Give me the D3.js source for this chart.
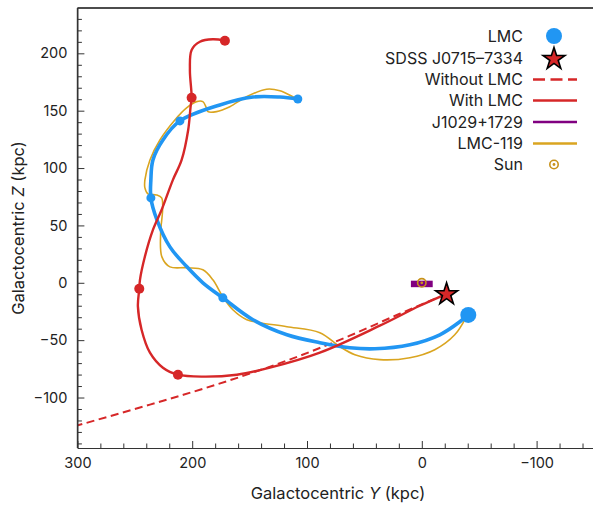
<!DOCTYPE html>
<html><head><meta charset="utf-8">
<script src="https://cdn.jsdelivr.net/npm/d3@7"></script>
<style>
html,body{margin:0;padding:0;background:#fff;}
svg{display:block;font-family:Inter,"Noto Sans",sans-serif;}
</style></head>
<body><svg id="chart" width="593" height="505"></svg>
<script>
// ---- data (Galactocentric Y, Z in kpc) ----
const lmcNow = [-40.5, -28];
const starPos = [-21.6, -10];
const sunPos = [0, 0];
const j1029Line = [[9.5, -1], [-9.5, -1]];

const lmcOrbit = [[-40.1,-27.9],[-33.1,-34.0],[-15.7,-45.3],[10.4,-54.0],[40.9,-57.5],[62.7,-56.6],[88.8,-52.2],[117.5,-45.3],[147.1,-32.2],[173.3,-13.1],[190.7,0],[204.6,13.9],[219.4,31.3],[230.7,54.9],[236.0,74.0],[236.0,89.7],[234.2,107.1],[225.5,124.5],[210.7,141.1],[175.9,155.0],[147.1,161.9],[123.6,161.9],[108.0,160.2]];
const lmcDots = [[173.3,-13.1],[236.0,74.0],[210.7,141.1],[108.0,160.2]];

const withLMC = [[-21.8,-9.6],[1.7,-20.0],[36.6,-37.4],[88.8,-60.9],[132.3,-74.0],[161.1,-80.1],[190.7,-81.8],[212.4,-80.1],[225.5,-74.0],[236.8,-60.9],[244.1,-40.9],[247.3,-20.6],[246.1,-5.2],[245.5,2.6],[241.2,22.9],[234.2,46.1],[226.6,63.6],[216.8,89.7],[209.2,107.1],[203.5,133.2],[201.4,153.5],[200.5,161.3],[202.0,185.5],[200.5,202.9],[193.3,210.1],[182.0,212.2],[171.5,211.0]];
const withDots = [[212.4,-80.1],[246.1,-5.2],[200.5,161.3],[171.5,211.0]];

const withoutLMC = [[-21.8,-9.6],[19.2,-27.0],[62.7,-46.1],[106.2,-63.6],[149.8,-79.2],[193.3,-93.2],[236.8,-106.2],[300.4,-124.5],[315.2,-128.9]];

const lmc119 = [[-38.3,-30.5],[-28.7,-45.3],[-11.3,-58.3],[10.4,-65.3],[36.6,-67.0],[58.3,-62.7],[71.4,-55.7],[88.8,-43.5],[117.5,-38.3],[141.1,-34.8],[152.4,-32.2],[164.6,-23.5],[173.3,-12.2],[182.0,2.6],[190.7,11.3],[204.6,13.1],[219.4,13.9],[226.4,22.6],[227.5,43.5],[225.8,63.6],[226.6,74.0],[231.0,76.6],[238.6,77.5],[241.2,82.7],[241.2,89.7],[236.8,107.1],[228.1,124.5],[215.1,141.9],[204.9,152.4],[196.2,157.9],[190.7,157.9],[188.1,153.5],[186.3,149.2],[178.8,149.2],[167.2,153.5],[152.6,162.2],[135.2,168.7],[123.6,167.4],[112.3,162.2],[108.0,160.2]];

const xTicks = [300, 200, 100, 0, -100];
const xTickLabels = ["300", "200", "100", "0", "\u2212100"];
const yTicks = [200, 150, 100, 50, 0, -50, -100];
const yTickLabels = ["200", "150", "100", "50", "0", "\u221250", "\u2212100"];
const legendLabels = ["LMC", "SDSS J0715\u20137334", "Without LMC", "With LMC", "J1029+1729", "LMC-119", "Sun"];

// ---- styles ----
const C = {blue:"#2196f3", red:"#d62728", purple:"#800080", orange:"#daa520", sun:"#c8921a"};

const svg = d3.select("#chart");
const L = 77.4, T = 8, B = 448, R = 594;
const x = d3.scaleLinear().domain([300, -150]).range([L, R]);
const y = d3.scaleLinear().domain([-144, 239.5]).range([B, T]);

svg.append("defs").append("clipPath").attr("id","clip")
  .append("rect").attr("x",L).attr("y",T).attr("width",R-L).attr("height",B-T);

const line = d3.line().x(d=>x(d[0])).y(d=>y(d[1])).curve(d3.curveCatmullRom.alpha(0.5));
const g = svg.append("g").attr("clip-path","url(#clip)");

g.append("path").datum(withoutLMC).attr("d", line).attr("fill","none")
  .attr("stroke",C.red).attr("stroke-width",2).attr("stroke-dasharray","8,4.5");
g.append("path").datum(lmc119).attr("d", line).attr("fill","none")
  .attr("stroke",C.orange).attr("stroke-width",1.6);
g.append("path").datum(lmcOrbit).attr("d", line).attr("fill","none")
  .attr("stroke",C.blue).attr("stroke-width",3.6);
g.append("path").datum(withLMC).attr("d", line).attr("fill","none")
  .attr("stroke",C.red).attr("stroke-width",2.4);

g.selectAll(".ld").data(lmcDots).join("circle").attr("cx",d=>x(d[0])).attr("cy",d=>y(d[1])).attr("r",4.5).attr("fill",C.blue);
g.selectAll(".wd").data(withDots).join("circle").attr("cx",d=>x(d[0])).attr("cy",d=>y(d[1])).attr("r",5).attr("fill",C.red);

// J1029 bar and Sun
g.append("path").datum(j1029Line).attr("d", d3.line().x(d=>x(d[0])).y(d=>y(d[1])))
  .attr("stroke",C.purple).attr("stroke-width",6.5).attr("fill","none");
function sunSym(sel, cx, cy){
  sel.append("circle").attr("cx",cx).attr("cy",cy).attr("r",4.2).attr("fill","none").attr("stroke",C.sun).attr("stroke-width",1.6);
  sel.append("circle").attr("cx",cx).attr("cy",cy).attr("r",1.4).attr("fill",C.sun);
}
sunSym(g, x(sunPos[0]), y(sunPos[1]));

const star = d3.symbol().type(d3.symbolStar).size(150);
g.append("path").attr("d", star).attr("transform",`translate(${x(starPos[0])},${y(starPos[1])})`)
  .attr("fill",C.red).attr("stroke","#000").attr("stroke-width",1.6);
g.append("circle").attr("cx",x(lmcNow[0])).attr("cy",y(lmcNow[1])).attr("r",8).attr("fill",C.blue);

// ---- axes ----
const gx = svg.append("g").attr("transform",`translate(0,${B})`);
gx.call(d3.axisBottom(x).tickValues(d3.range(300,-160,-20).filter(v=>v%100!==0)).tickSizeInner(-4.5).tickSizeOuter(0).tickFormat(""));
gx.call(g2=>g2.select(".domain").remove());
const gx2 = svg.append("g").attr("transform",`translate(0,${B})`);
gx2.call(d3.axisBottom(x).tickValues(xTicks).tickSizeInner(-7).tickSizeOuter(0).tickPadding(10)
  .tickFormat((d,i)=>xTickLabels[i]));
const gy = svg.append("g").attr("transform",`translate(${L},0)`);
gy.call(d3.axisLeft(y).tickValues(d3.range(-140,240,10).filter(v=>v%50!==0)).tickSizeInner(-4.5).tickSizeOuter(0).tickFormat(""));
gy.call(g2=>g2.select(".domain").remove());
const gy2 = svg.append("g").attr("transform",`translate(${L},0)`);
gy2.call(d3.axisLeft(y).tickValues(yTicks).tickSizeInner(-7).tickSizeOuter(0).tickPadding(10)
  .tickFormat((d,i)=>yTickLabels[i]));
svg.selectAll(".tick line").attr("stroke","#333").attr("stroke-width",1);
svg.selectAll(".domain").attr("stroke","#333").attr("stroke-width",1.2);
svg.selectAll(".tick text").attr("font-size",14.5).attr("fill","#222").attr("font-family","Inter,sans-serif");
svg.append("line").attr("x1",L).attr("x2",593).attr("y1",T).attr("y2",T).attr("stroke","#111").attr("stroke-width",1.4);
svg.append("line").attr("x1",L).attr("x2",L).attr("y1",T).attr("y2",B).attr("stroke","#333").attr("stroke-width",1.2);

// axis titles
const xt = svg.append("text").attr("x",338).attr("y",499).attr("text-anchor","middle").attr("font-size",16.5).attr("fill","#222");
xt.append("tspan").text("Galactocentric ");
xt.append("tspan").attr("font-style","italic").text("Y");
xt.append("tspan").text(" (kpc)");
const yt = svg.append("text").attr("transform","translate(24,228) rotate(-90)").attr("text-anchor","middle").attr("font-size",16.5).attr("fill","#222");
yt.append("tspan").text("Galactocentric ");
yt.append("tspan").attr("font-style","italic").text("Z");
yt.append("tspan").text(" (kpc)");

// ---- legend ----
const lg = svg.append("g");
const rowY = [36, 58, 79.5, 100.5, 122, 143.5, 164.5];
const tx = 523, sx = 554, lx1 = 533, lx2 = 577;
legendLabels.forEach((lab,i)=>{
  lg.append("text").attr("x",tx).attr("y",rowY[i]).attr("dy","0.35em").attr("text-anchor","end")
    .attr("font-size",16).attr("fill","#222").text(lab);
});
lg.append("circle").attr("cx",sx).attr("cy",rowY[0]).attr("r",8).attr("fill",C.blue);
lg.append("path").attr("d",star).attr("transform",`translate(${sx},${rowY[1]+1})`).attr("fill",C.red).attr("stroke","#000").attr("stroke-width",1.6);
lg.append("line").attr("x1",lx1).attr("x2",lx2).attr("y1",rowY[2]).attr("y2",rowY[2]).attr("stroke",C.red).attr("stroke-width",2.6).attr("stroke-dasharray","12,5.5");
lg.append("line").attr("x1",lx1).attr("x2",lx2).attr("y1",rowY[3]).attr("y2",rowY[3]).attr("stroke",C.red).attr("stroke-width",2.6);
lg.append("line").attr("x1",lx1).attr("x2",lx2).attr("y1",rowY[4]).attr("y2",rowY[4]).attr("stroke",C.purple).attr("stroke-width",2.6);
lg.append("line").attr("x1",lx1).attr("x2",lx2).attr("y1",rowY[5]).attr("y2",rowY[5]).attr("stroke",C.orange).attr("stroke-width",2.6);
sunSym(lg, sx, rowY[6]);
</script></body></html>
